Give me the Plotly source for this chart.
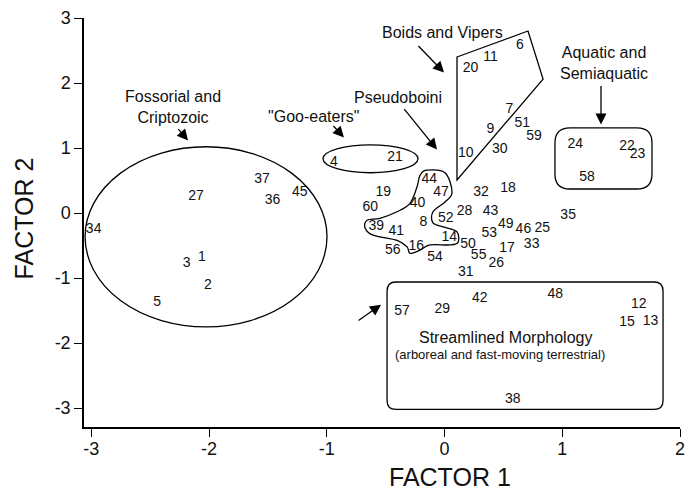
import plotly.graph_objects as go

# ---- data: point labels and their FACTOR 1 / FACTOR 2 scores ----
labels = ["34", "27", "37", "36", "45", "1", "3", "2", "5",
          "4", "21",
          "44", "47", "19", "60", "40", "39", "41", "8", "52", "14", "56", "16", "54",
          "28", "32", "18", "43", "49", "46", "25", "35", "53", "50", "55", "26", "17", "33", "31",
          "20", "11", "6", "7", "51", "59", "9", "30", "10",
          "24", "22", "23", "58",
          "57", "29", "42", "48", "12", "15", "13", "38"]
factor1 = [-2.98, -2.11, -1.55, -1.46, -1.23, -2.06, -2.19, -2.01, -2.44,
           -0.94, -0.42,
           -0.13, -0.03, -0.52, -0.63, -0.23, -0.58, -0.41, -0.18, 0.01, 0.04, -0.44, -0.24, -0.08,
           0.17, 0.31, 0.54, 0.39, 0.52, 0.67, 0.83, 1.05, 0.38, 0.20, 0.29, 0.44, 0.53, 0.74, 0.18,
           0.22, 0.39, 0.64, 0.55, 0.66, 0.76, 0.39, 0.47, 0.18,
           1.11, 1.55, 1.64, 1.21,
           -0.36, -0.02, 0.30, 0.94, 1.65, 1.55, 1.75, 0.58]
factor2 = [-0.25, 0.25, 0.51, 0.20, 0.31, -0.69, -0.77, -1.11, -1.38,
           0.78, 0.86,
           0.52, 0.31, 0.31, 0.09, 0.15, -0.20, -0.28, -0.15, -0.09, -0.37, -0.57, -0.51, -0.68,
           0.03, 0.32, 0.38, 0.02, -0.17, -0.25, -0.23, -0.03, -0.32, -0.49, -0.66, -0.77, -0.55, -0.49, -0.92,
           2.23, 2.40, 2.58, 1.60, 1.38, 1.18, 1.28, 0.98, 0.92,
           1.06, 1.02, 0.90, 0.55,
           -1.52, -1.48, -1.32, -1.25, -1.40, -1.68, -1.66, -2.86]

x_ticks = [-3, -2, -1, 0, 1, 2]
x_ticktext = ["-3", "-2", "-1", "0", "1", "2"]
y_ticks = [-3, -2, -1, 0, 1, 2, 3]
y_ticktext = ["-3", "-2", "-1", "0", "1", "2", "3"]

# group outlines (data units)
boids_x = [0.106, 0.709, 0.837, 0.106]
boids_y = [2.40, 2.80, 2.06, 0.51]
pseudo_x = [-0.149, 0.004, 0.064, 0.004, -0.098, -0.098, 0.004, 0.106, 0.115, 0.047,
            -0.123, -0.208, -0.293, -0.318, -0.403, -0.607, -0.675, -0.658, -0.548, -0.403,
            -0.293, -0.234, -0.208]
pseudo_y = [0.66, 0.62, 0.32, 0.17, 0.02, -0.15, -0.22, -0.29, -0.45, -0.49,
            -0.49, -0.57, -0.62, -0.52, -0.42, -0.34, -0.23, -0.11, -0.08, 0.02,
            0.15, 0.40, 0.58]

FONT = "Liberation Sans, Arial, sans-serif"
LINE = dict(color="black", width=1.3)
PXX, PXY = 117.75, 65.0  # approx pixels per data unit (for rounded corners / smoothing)

fig = go.Figure()
fig.add_trace(go.Scatter(x=factor1, y=factor2, text=labels, mode="text",
                         textposition="middle center",
                         textfont=dict(family=FONT, size=14, color="#111"),
                         hoverinfo="skip", showlegend=False))

shapes = []
# Fossorial ellipse
shapes.append(dict(type="circle", xref="x", yref="y", x0=-3.053, x1=-0.998, y0=-1.75, y1=1.02, line=LINE))
# Goo-eaters ellipse
shapes.append(dict(type="circle", xref="x", yref="y", x0=-1.032, x1=-0.225, y0=0.62, y1=1.05, line=LINE))
# Boids polygon
p = "M " + " L ".join(f"{a},{b}" for a, b in zip(boids_x, boids_y)) + " Z"
shapes.append(dict(type="path", xref="x", yref="y", path=p, line=LINE))


def rrect(x0, x1, y0, y1, rpx):
    rx, ry = rpx / PXX, rpx / PXY
    return (f"M {x0+rx},{y0} L {x1-rx},{y0} Q {x1},{y0} {x1},{y0+ry} "
            f"L {x1},{y1-ry} Q {x1},{y1} {x1-rx},{y1} L {x0+rx},{y1} "
            f"Q {x0},{y1} {x0},{y1-ry} L {x0},{y0+ry} Q {x0},{y0} {x0+rx},{y0} Z")


shapes.append(dict(type="path", xref="x", yref="y", path=rrect(0.938, 1.762, 0.37, 1.31, 15), line=LINE))
shapes.append(dict(type="path", xref="x", yref="y", path=rrect(-0.488, 1.856, -3.02, -1.06, 9), line=LINE))

# Pseudoboini blob: closed Catmull-Rom spline
n = len(pseudo_x)
P = [(pseudo_x[i] * PXX, pseudo_y[i] * PXY) for i in range(n)]
path = f"M {pseudo_x[0]},{pseudo_y[0]}"
for i in range(n):
    p0, p1, p2, p3 = P[i - 1], P[i], P[(i + 1) % n], P[(i + 2) % n]
    c1 = (p1[0] + (p2[0] - p0[0]) / 6, p1[1] + (p2[1] - p0[1]) / 6)
    c2 = (p2[0] - (p3[0] - p1[0]) / 6, p2[1] - (p3[1] - p1[1]) / 6)
    path += f" C {c1[0]/PXX},{c1[1]/PXY} {c2[0]/PXX},{c2[1]/PXY} {p2[0]/PXX},{p2[1]/PXY}"
path += " Z"
shapes.append(dict(type="path", xref="x", yref="y", path=path, line=LINE))

annotations = []
txt = dict(family=FONT, size=16, color="#111")
for t, x, y in [("Fossorial and<br>Criptozoic", -2.306, 1.625),
                ("\"Goo-eaters\"", -1.117, 1.49),
                ("Pseudoboini", -0.395, 1.78),
                ("Boids and Vipers", -0.013, 2.78),
                ("Aquatic and<br>Semiaquatic", 1.355, 2.31),
                ("Streamlined Morphology", 0.522, -1.92)]:
    annotations.append(dict(x=x, y=y, xref="x", yref="y", text=t, showarrow=False, font=txt))
annotations.append(dict(x=0.471, y=-2.17, xref="x", yref="y", text="(arboreal and fast-moving terrestrial)",
                        showarrow=False, font=dict(family=FONT, size=13, color="#111")))

for (tx, ty, hx, hy) in [(-2.272, 1.315, -2.178, 1.115),
                         (-0.955, 1.362, -0.854, 1.162),
                         (-0.352, 1.623, -0.064, 0.977),
                         (-0.234, 2.592, -0.004, 2.162),
                         (1.329, 1.977, 1.329, 1.362),
                         (-0.743, -1.669, -0.539, -1.408)]:
    annotations.append(dict(x=hx, y=hy, ax=tx, ay=ty, xref="x", yref="y", axref="x", ayref="y",
                            text="", showarrow=True, arrowhead=2, arrowsize=1.7, arrowwidth=1.3,
                            arrowcolor="black"))

# axis titles
annotations.append(dict(x=0.05, y=-0.123, xref="x", yref="paper", yanchor="middle",
                        text="FACTOR 1", showarrow=False, font=dict(family=FONT, size=25, color="#111")))
annotations.append(dict(x=-0.100, y=0.511, xref="paper", yref="paper", xanchor="center", yanchor="middle",
                        text="FACTOR 2", textangle=-90, showarrow=False,
                        font=dict(family=FONT, size=25, color="#111")))

fig.update_layout(
    width=696, height=495,
    margin=dict(l=76, r=24, t=10, b=76, autoexpand=False),
    plot_bgcolor="white", paper_bgcolor="white",
    shapes=shapes, annotations=annotations,
    xaxis=dict(range=[-3.062, 2.0], tickvals=x_ticks, ticktext=x_ticktext, showgrid=False, zeroline=False,
               showline=True, linecolor="black", linewidth=1.5, ticks="outside", ticklen=8,
               tickcolor="black", tickwidth=1.3, ticklabelstandoff=-3,
               tickfont=dict(family=FONT, size=18, color="#111")),
    yaxis=dict(range=[-3.29, 3.0], tickvals=y_ticks, ticktext=y_ticktext, showgrid=False, zeroline=False,
               showline=True, linecolor="black", linewidth=1.5, ticks="outside", ticklen=8,
               tickcolor="black", tickwidth=1.3, tickfont=dict(family=FONT, size=18, color="#111")),
)

fig.write_html("out.html")
